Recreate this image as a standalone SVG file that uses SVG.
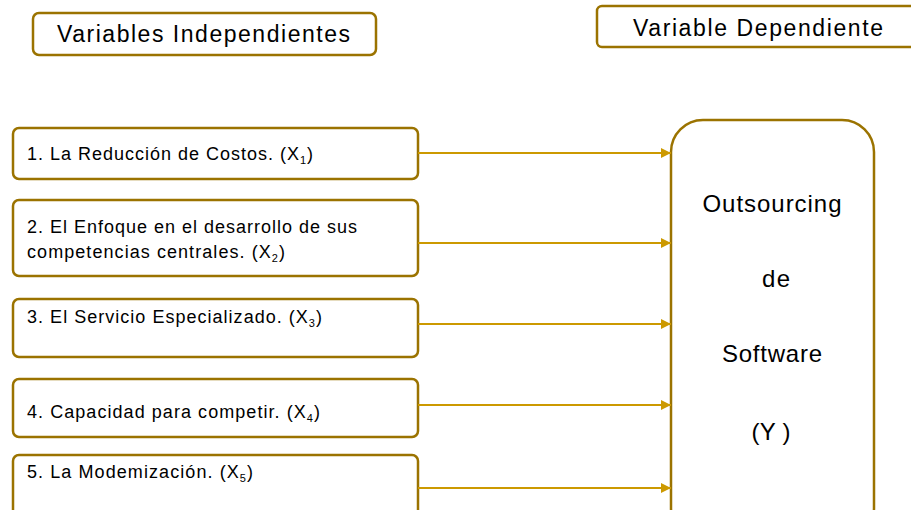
<svg xmlns="http://www.w3.org/2000/svg" width="911" height="510" viewBox="0 0 911 510">
<defs>
<style>
.box{fill:#fff;stroke:#9b7300;stroke-width:2.5}
.t{font-family:"Liberation Sans",Arial,sans-serif;fill:#000}
.h{font-size:23px}
.l{font-size:18px}
.b{font-size:24px;text-anchor:middle}
.sub{font-size:11px}
.con{stroke:#cc9900;stroke-width:2;fill:none;marker-end:url(#ah)}
</style>
<marker id="ah" viewBox="0 0 10 10" refX="10" refY="5" markerWidth="5" markerHeight="5" orient="auto" markerUnits="strokeWidth">
<path d="M0,0 L10,5 L0,10 z" fill="#cc9900"/>
</marker>
</defs>
<rect width="911" height="510" fill="#fff"/>
<g id="hdr-indep">
<rect class="box" x="33" y="13" width="343" height="42" rx="6"/>
<text class="t h" x="57" y="42" textLength="293">Variables Independientes</text>
</g>
<g id="hdr-dep">
<rect class="box" x="597" y="6" width="330" height="41" rx="5"/>
<text class="t h" x="633" y="36" textLength="250">Variable Dependiente</text>
</g>
<g id="x1">
<rect class="box" x="13" y="128" width="405" height="51" rx="6"/>
<text class="t l" x="27" y="160" textLength="286">1. La Reducción de Costos. (X<tspan class="sub" dy="4">1</tspan><tspan dy="-4">)</tspan></text>
</g>
<g id="x2">
<rect class="box" x="13" y="200" width="405" height="76" rx="6"/>
<text class="t l" x="27" y="233" textLength="330">2. El Enfoque en el desarrollo de sus</text>
<text class="t l" x="27" y="258" textLength="258">competencias centrales. (X<tspan class="sub" dy="4">2</tspan><tspan dy="-4">)</tspan></text>
</g>
<g id="x3">
<rect class="box" x="13" y="299" width="405" height="58" rx="6"/>
<text class="t l" x="27" y="323" textLength="295">3. El Servicio Especializado. (X<tspan class="sub" dy="4">3</tspan><tspan dy="-4">)</tspan></text>
</g>
<g id="x4">
<rect class="box" x="13" y="379" width="405" height="58" rx="6"/>
<text class="t l" x="27" y="418" textLength="293">4. Capacidad para competir. (X<tspan class="sub" dy="4">4</tspan><tspan dy="-4">)</tspan></text>
</g>
<g id="x5">
<rect class="box" x="13" y="455" width="405" height="80" rx="6"/>
<text class="t l" x="27" y="478" textLength="226">5. La Modemización. (X<tspan class="sub" dy="4">5</tspan><tspan dy="-4">)</tspan></text>
</g>
<g id="y">
<rect class="box" x="671" y="120" width="203" height="420" rx="32"/>
<text class="t b" x="772" y="212" textLength="139">Outsourcing</text>
<text class="t b" x="776" y="287" textLength="28">de</text>
<text class="t b" x="772" y="362" textLength="100">Software</text>
<text class="t b" x="771" y="440" textLength="39">(Y )</text>
</g>
<g id="connectors">
<line class="con" x1="418" y1="153" x2="671" y2="153"/>
<line class="con" x1="418" y1="243" x2="671" y2="243"/>
<line class="con" x1="418" y1="324" x2="671" y2="324"/>
<line class="con" x1="418" y1="405" x2="671" y2="405"/>
<line class="con" x1="418" y1="488" x2="671" y2="488"/>
</g>
</svg>
